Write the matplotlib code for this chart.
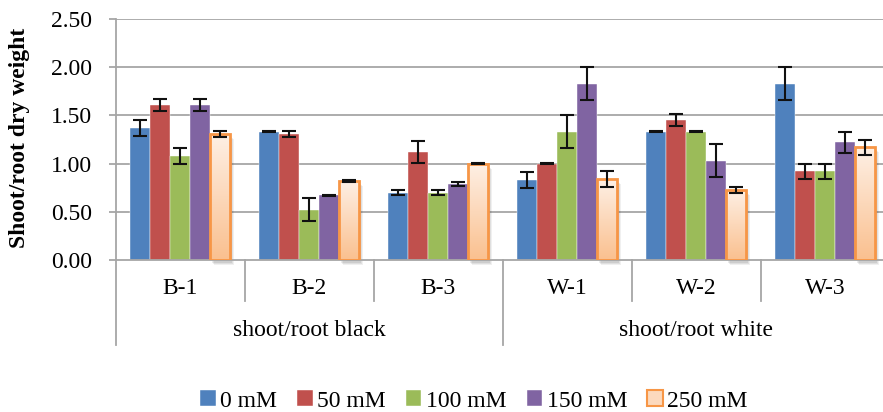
import numpy as np
import matplotlib
matplotlib.use("Agg")
import matplotlib.pyplot as plt
from matplotlib.patches import Rectangle
from matplotlib.transforms import blended_transform_factory, offset_copy
from matplotlib.colors import LinearSegmentedColormap

plt.rcParams['font.family'] = ['Liberation Serif', 'DejaVu Serif']

categories = ["B-1", "B-2", "B-3", "W-1", "W-2", "W-3"]
groups = ["shoot/root black", "shoot/root white"]
series = ["0 mM", "50 mM", "100 mM", "150 mM", "250 mM"]

vals_0 = [1.37, 1.33, 0.70, 0.83, 1.33, 1.83]
vals_50 = [1.61, 1.31, 1.12, 1.00, 1.45, 0.92]
vals_100 = [1.08, 0.52, 0.70, 1.33, 1.33, 0.92]
vals_150 = [1.61, 0.67, 0.79, 1.83, 1.03, 1.22]
vals_250 = [1.31, 0.82, 1.00, 0.84, 0.73, 1.17]

err_0 = [0.08, 0.003, 0.03, 0.08, 0.003, 0.17]
err_50 = [0.06, 0.03, 0.11, 0.003, 0.06, 0.08]
err_100 = [0.08, 0.12, 0.03, 0.17, 0.003, 0.08]
err_150 = [0.06, 0.003, 0.02, 0.17, 0.17, 0.11]
err_250 = [0.03, 0.01, 0.003, 0.08, 0.03, 0.08]

yticks = [0.0, 0.5, 1.0, 1.5, 2.0, 2.5]

colors = ["#4f81bd", "#c0504d", "#9bbb59", "#8064a2"]
orange_edge = "#f79646"
FS = 17

W, H = 883, 412
fig = plt.figure(figsize=(W / 100, H / 100), dpi=100)
ax = fig.add_axes([115.5 / W, (H - 260) / H, (889.5 - 115.5) / W, (260 - 19) / H])

x = np.arange(len(categories))
bw = 0.155
all_vals = [vals_0, vals_50, vals_100, vals_150, vals_250]
all_errs = [err_0, err_50, err_100, err_150, err_250]

grid_c = "#a6a6a6"
for yv in yticks[1:]:
    ax.axhline(yv, color=grid_c, lw=1.3, zorder=0)

handles = []
for i in range(4):
    b = ax.bar(x + (i - 2) * bw, all_vals[i], bw, color=colors[i],
               edgecolor="#ffffff", linewidth=0.3, zorder=2, label=series[i])
    handles.append(b)

# 250 mM bars: gradient fill, orange outline, soft shadow behind
cmap = LinearSegmentedColormap.from_list("peach", ["#fef0e5", "#fac08f"])
grad = np.linspace(0, 1, 256).reshape(-1, 1)
xo = x + 2 * bw
b5 = ax.bar(xo, vals_250, bw, color="none", edgecolor=orange_edge,
            linewidth=2.0, zorder=4, label=series[4])
for rect in b5:
    x0, w, h = rect.get_x(), rect.get_width(), rect.get_height()
    for dx, dy, a in [(4, -5, 0.06), (3, -4, 0.07), (2, -3, 0.08)]:
        sh_tr = offset_copy(ax.transData, fig=fig, x=dx, y=dy, units="dots")
        ax.add_patch(Rectangle((x0, 0), w, h, transform=sh_tr, facecolor="#000000",
                               edgecolor="none", alpha=a, zorder=2.5, clip_on=False))
    im = ax.imshow(grad, extent=[x0, x0 + w, 0, h], origin="upper", cmap=cmap,
                   aspect="auto", zorder=3)
    clip = Rectangle((x0, 0), w, h, transform=ax.transData)
    im.set_clip_path(clip)
handles.append(Rectangle((0, 0), 1, 1, facecolor="#fcd9bd", edgecolor=orange_edge, linewidth=1.5))

for i in range(5):
    ax.errorbar(x + (i - 2) * bw, all_vals[i], yerr=all_errs[i], fmt="none",
                ecolor="#111111", elinewidth=1.5, capsize=4.7, capthick=1.5, zorder=5)

ax.set_xlim(-0.5, 5.5)
ax.set_ylim(0, 2.5)
ax.set_yticks(yticks)
ax.set_yticklabels([f"{v:.2f}" for v in yticks], fontsize=FS)
ax.tick_params(axis="y", direction="out", length=5, width=1.3, color=grid_c, pad=12)
ax.set_xticks([])
for s in ["top", "right"]:
    ax.spines[s].set_visible(False)
for s in ["left", "bottom"]:
    ax.spines[s].set_color(grid_c)
    ax.spines[s].set_linewidth(1.3)
fig.text(20 / W, 1 - 138 / H, "Shoot/root dry weight", rotation=90, ha="center",
         va="center", fontsize=FS, fontweight="bold")

# category and group axis below the plot
tr = blended_transform_factory(ax.transData, fig.transFigure)
def fy(py):
    return 1 - py / H
for xb in [0.5, 1.5, 3.5, 4.5]:
    ax.plot([xb, xb], [fy(260), fy(301)], color=grid_c, lw=1.3, transform=tr, clip_on=False)
for xb in [-0.5, 2.5, 5.5]:
    ax.plot([xb, xb], [fy(260), fy(345)], color=grid_c, lw=1.3, transform=tr, clip_on=False)
for xi, c in zip(x, categories):
    ax.text(xi, fy(289), c, transform=tr, ha="center", va="center", fontsize=FS)
for gi, g in enumerate(groups):
    ax.text(1.0 + 3 * gi, fy(330), g, transform=tr, ha="center", va="center", fontsize=FS)

fig.legend(handles, series, loc="center", bbox_to_anchor=(474 / W, 1 - 401 / H),
           ncol=5, frameon=False, fontsize=FS, handlelength=0.65, handleheight=0.65,
           handletextpad=0.2, columnspacing=0.85, borderaxespad=0)

fig.savefig("out.png", dpi=100)
